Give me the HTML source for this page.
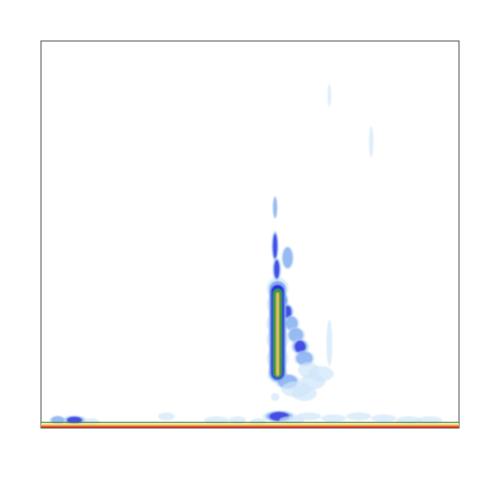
<!DOCTYPE html>
<html><head><meta charset="utf-8"><style>
body{margin:0;background:#fff;width:480px;height:480px;overflow:hidden}
svg{display:block}
</style></head><body>
<svg id="c" width="480" height="480">
<defs><filter id="bl" x="-50%" y="-50%" width="200%" height="200%"><feGaussianBlur stdDeviation="0.8"/></filter></defs>
<rect x="41" y="41" width="418" height="387" fill="#fff" stroke="#555" stroke-width="1"/>
<g id="marks" filter="url(#bl)"></g>
</svg>
<script>
// density blobs: x (0-100), y (0-100), level (1 light .. 5 peak), width, height in data units
const blobX = [56,56,56.6,56.6,56.6,56.6,56.6,56.6,58,59,60,61,62,63,64,59,61,63,65,67,69,79,59,8,12,30,42,47,57,60,64,70,76,82,88,93,52,4,69,56,56.4];
const blobY = [57,47,36,32,27,23,18,14,33,30,27,24,21,18,15,12,10,9,12,14,22,74,44,2,1.5,3,2,2,3,2,3,2.5,3,2.5,2,2,1.5,2,86,8,41];
const blobL = [2,3,1,1,1,1,1,1,3,3,2,2,3,2,1,2,1,1,1,1,1,1,2,3,1,1,1,1,3,1,1,1,1,1,1,1,1,2,1,1,3];
const blobW = [0.6,0.9,2.6,2.6,2.7,2.7,2.6,2.4,1.2,1.5,1.8,2.2,2.2,2.5,2.5,3,3.5,3,3,3,0.7,0.5,1.5,3,2,2,3,2,4,3,3,3,3,3,3,3,2,2,0.4,1,1.1];
const blobH = [3,4,3,3,3,3,3,2.5,2,2,2,2,2,2,2,2,2,2,2,2,6,4,3,1.2,1,1,1,1,1.5,1,1,1,1,1,1,1,1,1.2,3,1,3];
const levelColors = ["#cfe6fa","#80aaf0","#2a2ae0","#3a9a2a","#e8c070"];
// main spike core: centre x, top and bottom (data units)
const coreX = 56.6, coreTop = 38, coreBot = 12;
const coreWidths = [2.0,1.6,1.1,0.35];
const coreColors = ["#80aaf0","#2a2ae0","#3a9a2a","#e8c070"];
const xs = v => 41 + v/100*418;
const ys = v => 428 - v/100*387;
const g = document.getElementById('marks');
const ns = 'http://www.w3.org/2000/svg';
for (let i=0;i<blobX.length;i++){
  for (let l=0;l<blobL[i];l++){
    const e=document.createElementNS(ns,'ellipse');
    const s=1-l*0.2;
    e.setAttribute('cx',xs(blobX[i]));
    e.setAttribute('cy',ys(blobY[i]));
    e.setAttribute('rx',blobW[i]/100*418*s);
    e.setAttribute('ry',blobH[i]/100*387*(1-l*0.1));
    e.setAttribute('fill',levelColors[l]);
    e.setAttribute('opacity',l==0?0.7:0.75);
    
    
    g.appendChild(e);
  }
}
for(let l=0;l<coreWidths.length;l++){
  const r=document.createElementNS(ns,'rect');
  const w=coreWidths[l]/100*418;
  r.setAttribute('x',xs(coreX)-w);r.setAttribute('width',2*w);
  r.setAttribute('y',ys(coreTop-l));r.setAttribute('height',ys(coreBot+l*0.5)-ys(coreTop-l));
  r.setAttribute('rx',w);
  r.setAttribute('fill',coreColors[l]);
  
  
  g.appendChild(r);
}
// bottom band
const bandColors=["#3a8a3a","#f2e08a","#f0a050","#c83020"];
const bandY=[1.3,0.9,0.5,0.1];
const svg=document.getElementById('c');
for(let i=0;i<bandColors.length;i++){
  const r=document.createElementNS(ns,'rect');
  r.setAttribute('x',41);r.setAttribute('y',ys(bandY[i])-1.2);
  r.setAttribute('width',418);r.setAttribute('height',i==0?1:1.6);
  r.setAttribute('fill',bandColors[i]);
  
  
  svg.appendChild(r);
}
</script>
</body></html>
